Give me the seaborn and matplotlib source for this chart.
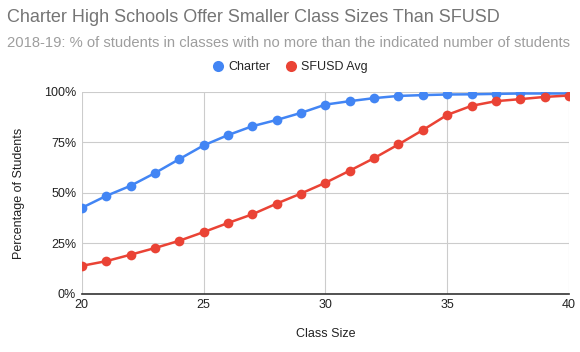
"""Charter vs SFUSD class size cumulative distribution."""

import matplotlib.pyplot as plt
import matplotlib.ticker as mticker
import pandas as pd
import seaborn as sns

CLASS_SIZE = list(range(20, 41))
CHARTER = [42.6, 48.5, 53.5, 59.8, 66.7, 73.5, 78.6, 83.0, 86.1, 89.6, 93.7,
           95.4, 96.9, 98.0, 98.4, 98.7, 98.8, 99.0, 99.2, 99.2, 99.2]
SFUSD = [13.9, 16.2, 19.4, 22.7, 26.3, 30.6, 35.1, 39.4, 44.7, 49.7, 55.0,
         61.0, 67.2, 74.0, 81.1, 88.6, 93.1, 95.4, 96.4, 97.5, 98.2]
SERIES = ["Charter", "SFUSD Avg"]
COLORS = ["#4285F4", "#EA4335"]


def main():
    sns.set_theme(style="whitegrid")
    plt.rcParams["font.family"] = ["Liberation Sans", "DejaVu Sans"]

    df = pd.DataFrame({
        "size": CLASS_SIZE * 2,
        "pct": CHARTER + SFUSD,
        "series": [SERIES[0]] * len(CHARTER) + [SERIES[1]] * len(SFUSD),
    })

    fig = plt.figure(figsize=(5.8, 3.52), dpi=100)
    ax = fig.add_axes([0.141, 0.165, 0.840, 0.574])
    sns.lineplot(data=df, x="size", y="pct", hue="series", palette=COLORS,
                 marker="o", markersize=7, markeredgewidth=0, linewidth=1.8,
                 ax=ax, legend=False)

    ax.set_xlim(20, 40)
    ax.set_ylim(0, 100)
    ax.set_xticks([20, 25, 30, 35, 40])
    ax.set_yticks([0, 25, 50, 75, 100])
    ax.yaxis.set_major_formatter(mticker.FuncFormatter(lambda v, _: f"{v:.0f}%"))
    ax.grid(True, color="#cccccc", linewidth=0.8)
    for side in ["top", "right", "left"]:
        ax.spines[side].set_visible(False)
    ax.spines["bottom"].set_color("#333333")
    ax.spines["bottom"].set_linewidth(1.2)
    ax.tick_params(axis="both", labelsize=9, colors="#222222", length=0, pad=4)
    ax.set_xlabel("Class Size", fontsize=9, color="#222222", labelpad=12)
    ax.set_ylabel("Percentage of Students", fontsize=9, color="#222222", labelpad=14)

    fig.text(0.012, 0.95, "Charter High Schools Offer Smaller Class Sizes Than SFUSD",
             fontsize=13, color="#757575", va="center", ha="left")
    fig.text(0.012, 0.878, "2018-19: % of students in classes with no more than the indicated number of students",
             fontsize=10.6, color="#9e9e9e", va="center", ha="left")

    handles = [plt.Line2D([], [], marker="o", linestyle="", markersize=8,
                          color=c, markeredgewidth=0) for c in COLORS]
    fig.legend(handles, SERIES, loc="center", bbox_to_anchor=(0.5, 0.81), ncol=2,
               frameon=False, fontsize=9, handletextpad=0.3, columnspacing=1.2,
               handlelength=1.0)

    fig.savefig("out.png", dpi=100)
    plt.close(fig)


if __name__ == "__main__":
    main()
